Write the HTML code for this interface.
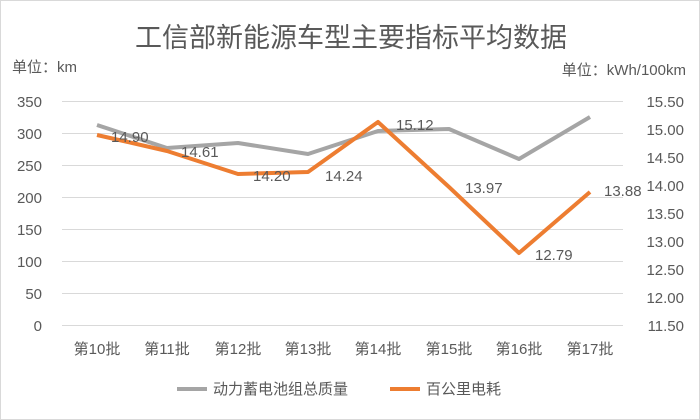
<!DOCTYPE html>
<html><head><meta charset="utf-8"><style>
body{margin:0;background:#fff}
svg{display:block}
text{font-family:"Liberation Sans","Noto Sans CJK SC",sans-serif;fill:#595959}
</style></head><body>
<svg width="700" height="420" xmlns="http://www.w3.org/2000/svg">
<rect x="0.5" y="0.5" width="699" height="419" fill="#fff" stroke="#d9d9d9"/>
<text x="351" y="47" font-size="27" text-anchor="middle">工信部新能源车型主要指标平均数据</text>
<text x="12" y="72" font-size="15">单位：km</text>
<text x="686" y="75" font-size="15" text-anchor="end">单位：kWh/100km</text>
<g stroke="#d9d9d9" stroke-width="1">
<line x1="62" x2="623" y1="101.5" y2="101.5"/><line x1="62" x2="623" y1="133.5" y2="133.5"/>
<line x1="62" x2="623" y1="165.5" y2="165.5"/><line x1="62" x2="623" y1="197.5" y2="197.5"/>
<line x1="62" x2="623" y1="229.5" y2="229.5"/><line x1="62" x2="623" y1="261.5" y2="261.5"/>
<line x1="62" x2="623" y1="293.5" y2="293.5"/><line x1="62" x2="623" y1="325.5" y2="325.5"/>
</g>
<g font-size="15" text-anchor="end">
<text x="42" y="107">350</text><text x="42" y="139">300</text><text x="42" y="171">250</text><text x="42" y="203">200</text>
<text x="42" y="235">150</text><text x="42" y="267">100</text><text x="42" y="299">50</text><text x="42" y="331">0</text>
</g>
<g font-size="15" text-anchor="end">
<text x="684" y="107">15.50</text><text x="684" y="135">15.00</text><text x="684" y="163">14.50</text><text x="684" y="191">14.00</text>
<text x="684" y="219">13.50</text><text x="684" y="247">13.00</text><text x="684" y="275">12.50</text><text x="684" y="303">12.00</text>
<text x="684" y="331">11.50</text>
</g>
<g font-size="15" text-anchor="middle">
<text x="97" y="354">第10批</text><text x="167" y="354">第11批</text><text x="238" y="354">第12批</text><text x="308" y="354">第13批</text>
<text x="378" y="354">第14批</text><text x="449" y="354">第15批</text><text x="519" y="354">第16批</text><text x="590" y="354">第17批</text>
</g>
<polyline fill="none" stroke="#a5a5a5" stroke-width="4" stroke-linejoin="round" points="97,125 167,148 238,143 308,154 378,131 449,129 519,159 590,117"/>
<polyline fill="none" stroke="#ed7d31" stroke-width="4" stroke-linejoin="round" points="97,135 167,151 238,174 308,172 378,122 449,187 519,253 590,192"/>
<g font-size="15" style="fill:#404040">
<text x="111" y="142">14.90</text><text x="181" y="157">14.61</text><text x="253" y="181">14.20</text><text x="325" y="181">14.24</text>
<text x="396" y="130">15.12</text><text x="465" y="193">13.97</text><text x="535" y="260">12.79</text><text x="604" y="196">13.88</text>
</g>
<line x1="177" x2="207" y1="389" y2="389" stroke="#a5a5a5" stroke-width="4"/>
<text x="213" y="394" font-size="15">动力蓄电池组总质量</text>
<line x1="390" x2="420" y1="389" y2="389" stroke="#ed7d31" stroke-width="4"/>
<text x="426" y="394" font-size="15">百公里电耗</text>
</svg>
</body></html>
